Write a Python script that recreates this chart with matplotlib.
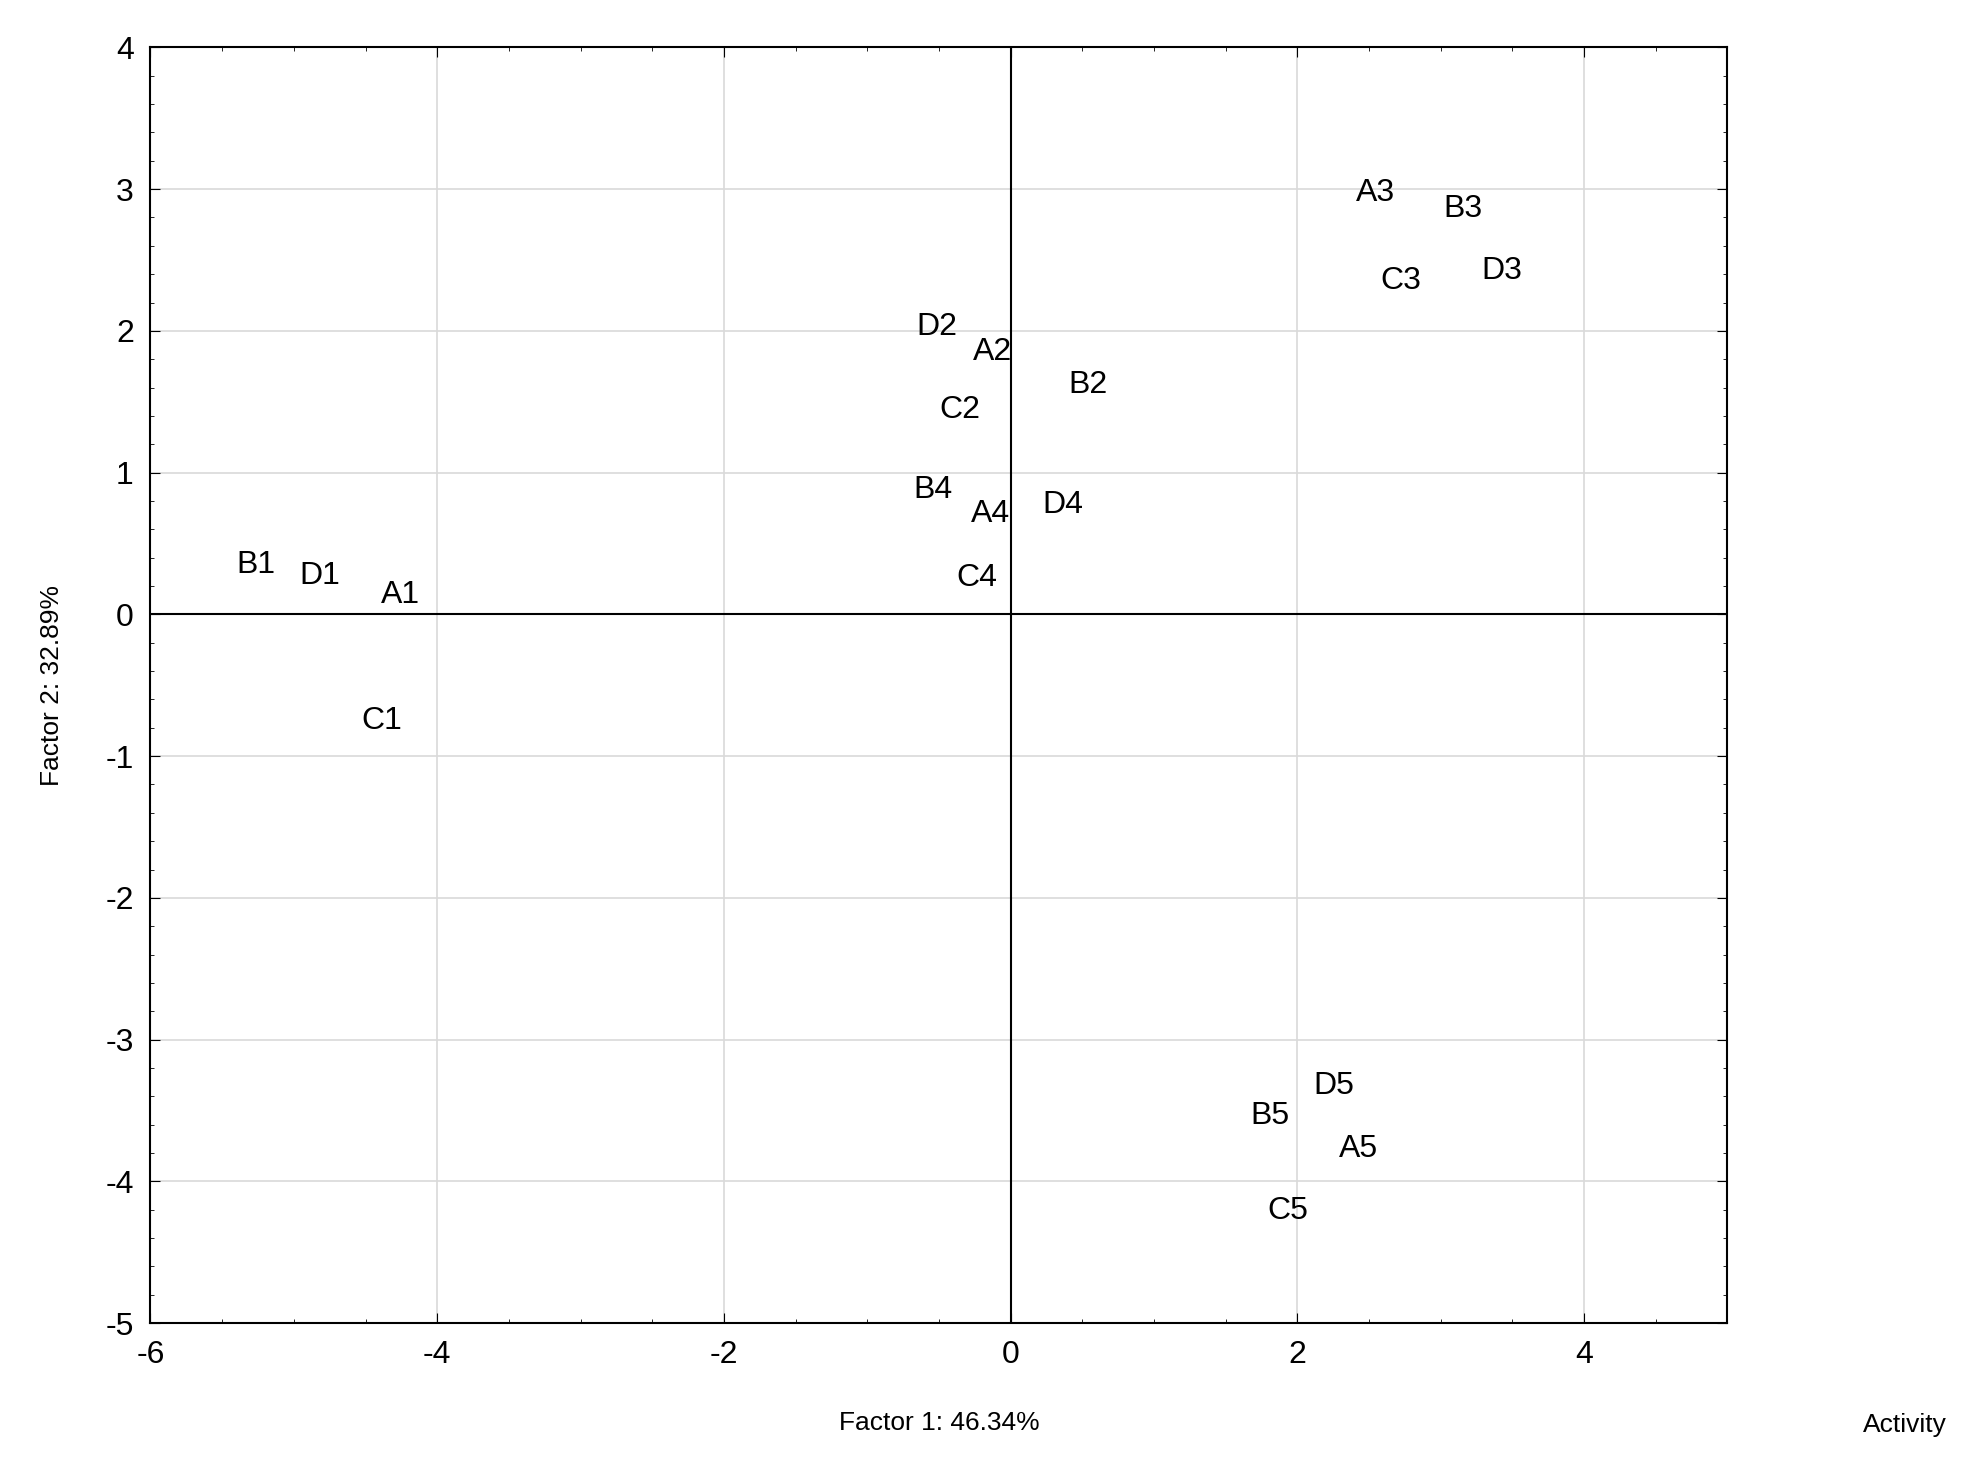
import matplotlib

matplotlib.use("Agg")
import matplotlib.pyplot as plt
from matplotlib.ticker import MultipleLocator

plt.rcParams["font.family"] = ["Liberation Sans", "DejaVu Sans"]
plt.rcParams["axes.unicode_minus"] = False

LABELS = ["B1", "D1", "A1", "C1", "D2", "A2", "B2", "C2", "B4", "A4", "D4", "C4",
          "A3", "B3", "C3", "D3", "D5", "B5", "A5", "C5"]
FACTOR1 = [-5.40, -4.96, -4.39, -4.53, -0.66, -0.26, 0.40, -0.50, -0.68, -0.28, 0.22, -0.38,
           2.41, 3.02, 2.58, 3.28, 2.11, 1.67, 2.29, 1.79]
FACTOR2 = [0.345, 0.27, 0.14, -0.75, 2.03, 1.85, 1.62, 1.44, 0.88, 0.71, 0.77, 0.26,
           2.97, 2.86, 2.35, 2.42, -3.33, -3.54, -3.77, -4.21]

fig = plt.figure(figsize=(19.72, 14.8), dpi=100)
ax = fig.add_axes([0.0763, 0.106, 0.7997, 0.862])
ax.set_xlim(-6, 5)
ax.set_ylim(-5, 4)
ax.xaxis.set_major_locator(MultipleLocator(2))
ax.xaxis.set_minor_locator(MultipleLocator(0.5))
ax.yaxis.set_major_locator(MultipleLocator(1))
ax.yaxis.set_minor_locator(MultipleLocator(0.2))
ax.tick_params(which="both", direction="in", top=True, right=True, labelsize=23, pad=12)
ax.tick_params(which="major", length=7)
ax.tick_params(which="minor", length=3)
ax.grid(True, which="major", color="#d9d9d9", linewidth=1.2)
ax.set_axisbelow(True)
ax.axhline(0, color="black", linewidth=1.5)
ax.axvline(0, color="black", linewidth=1.5)
for spine in ax.spines.values():
    spine.set_linewidth(1.5)

for label, x, y in zip(LABELS, FACTOR1, FACTOR2):
    ax.text(x, y, label, ha="left", va="center", fontsize=23)

ax.set_xlabel("Factor 1: 46.34%", fontsize=19, labelpad=30)
ax.set_ylabel("Factor 2: 32.89%", fontsize=19, labelpad=30)
fig.text(0.987, 0.037, "Activity", ha="right", va="center", fontsize=19)

fig.savefig("out.png", dpi=100)
